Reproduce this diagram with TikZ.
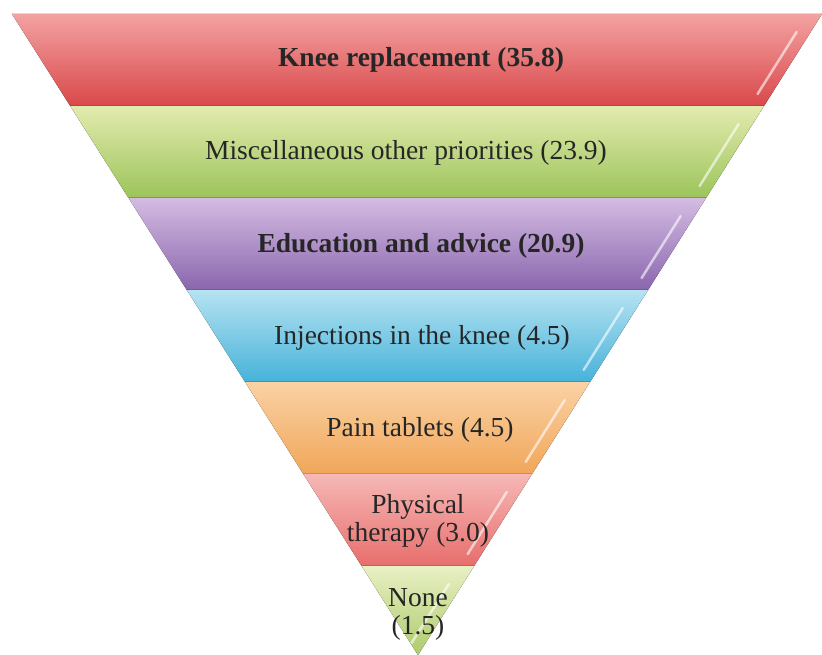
\documentclass[tikz,border=0pt]{standalone}
\usepackage{fontspec}
\setmainfont{Liberation Serif}
\usetikzlibrary{calc}

% band colours (light top, dark bottom)
\definecolor{kneeTop}{HTML}{F3A2A2}
\definecolor{kneeBot}{HTML}{D9484A}
\definecolor{miscTop}{HTML}{E2EBAE}
\definecolor{miscBot}{HTML}{9CC45A}
\definecolor{educTop}{HTML}{D4BCE2}
\definecolor{educBot}{HTML}{8A66AE}
\definecolor{injTop}{HTML}{B6E3F1}
\definecolor{injBot}{HTML}{46B2DA}
\definecolor{painTop}{HTML}{FAD2A4}
\definecolor{painBot}{HTML}{F1A65A}
\definecolor{physTop}{HTML}{F6B8B6}
\definecolor{physBot}{HTML}{E76E6C}
\definecolor{noneTop}{HTML}{E8F0C4}
\definecolor{noneBot}{HTML}{AECB6C}

\tikzset{
	bandlabel/.style={text=black!85, align=center, font=\fontsize{27.5}{28}\selectfont},
	streak/.style={white, opacity=0.6, line width=2.5pt, line cap=round}
}

\begin{document}
\begin{tikzpicture}[x=1pt, y=-1pt]
		\useasboundingbox (0,0) rectangle (822,655);
		
		% Bands of the inverted pyramid
		\foreach \i/\ctop/\cbot in {0/kneeTop/kneeBot,1/miscTop/miscBot,2/educTop/educBot,3/injTop/injBot,4/painTop/painBot,5/physTop/physBot,6/noneTop/noneBot}{
			\pgfmathsetmacro{\ya}{14+92*\i}
			\pgfmathsetmacro{\yb}{min(14+92*(\i+1),655)}
			\pgfmathsetmacro{\xal}{12+(\ya-14)/641*406}
			\pgfmathsetmacro{\xar}{822-(\ya-14)/641*404}
			\pgfmathsetmacro{\xbl}{12+(\yb-14)/641*406}
			\pgfmathsetmacro{\xbr}{822-(\yb-14)/641*404}
			\fill[top color=\ctop, bottom color=\cbot] (\xal,\ya) -- (\xar,\ya) -- (\xbr,\yb) -- (\xbl,\yb) -- cycle;
			% thin dark rim at the bottom of each band
			\draw[\cbot!85!black, line width=1pt] (\xbl,\yb-0.5) -- (\xbr,\yb-0.5);
			% glossy streak near the right edge
			\pgfmathsetmacro{\ys}{\ya+18}
			\pgfmathsetmacro{\ye}{\yb-12}
			\draw[streak] ({822-(\ys-14)/641*404-14},\ys) -- ({822-(\ye-14)/641*404-14},\ye);
		}
		
		% Labels
		\node[bandlabel, font=\fontsize{27.5}{28}\selectfont\bfseries] (knee) at (421,60) {Knee replacement (35.8)};
		\node[bandlabel] (misc) at (406,153) {Miscellaneous other priorities (23.9)};
		\node[bandlabel, font=\fontsize{27.5}{28}\selectfont\bfseries] (educ) at (421,246) {Education and advice (20.9)};
		\node[bandlabel] (inject) at (422,338) {Injections in the knee (4.5)};
		\node[bandlabel] (pain) at (420,430) {Pain tablets (4.5)};
		\node[bandlabel] (physio) at (418,521) {Physical\\therapy (3.0)};
		\node[bandlabel] (none) at (418,614) {None\\(1.5)};
	\end{tikzpicture}
\end{document}
